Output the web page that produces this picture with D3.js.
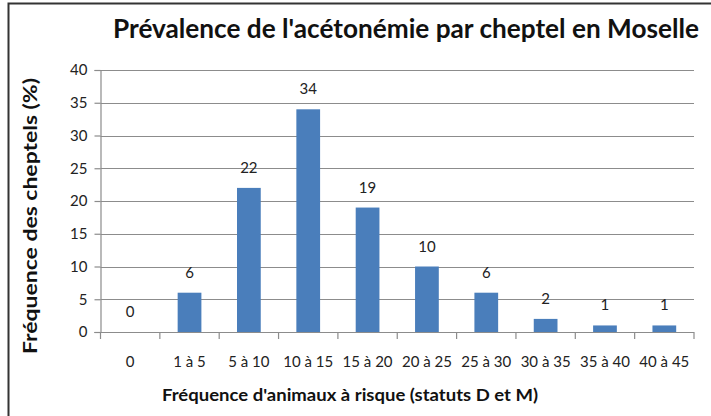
<!DOCTYPE html>
<html><head><meta charset="utf-8">
<script src="https://cdn.jsdelivr.net/npm/d3@7"></script>
<style>body{margin:0;background:#fff}svg{display:block}</style>
</head><body><svg id="c" width="711" height="416"></svg>
<script>
const categories = ["0","1 à 5","5 à 10","10 à 15","15 à 20","20 à 25","25 à 30","30 à 35","35 à 40","40 à 45"];
const values = [0,6,22,34,19,10,6,2,1,1];
const yTicks = [0,5,10,15,20,25,30,35,40];
const title = "Prévalence de l'acétonémie par cheptel en Moselle";
const yTitle = "Fréquence des cheptels (%)";
const xTitle = "Fréquence d'animaux à risque (statuts D et M)";

const svg = d3.select("#c");
const font = "Lato, 'Open Sans', sans-serif";
const L = 100.5, R = 694, T = 70, B = 332;
// frame
svg.append("path").attr("d","M8.5,416 V3.5 H711").attr("fill","none").attr("stroke","#333").attr("stroke-width",2);

const xb = d3.scaleBand().domain(categories).range([L,R]);
const y = d3.scaleLinear().domain([0,40]).range([B,T]);

// gridlines
svg.append("g").selectAll("line").data(yTicks.filter(d=>d>0)).join("line")
  .attr("x1",L).attr("x2",R).attr("y1",d=>Math.round(y(d))+0.5).attr("y2",d=>Math.round(y(d))+0.5)
  .attr("stroke","#8c8c8c").attr("stroke-width",1.2);

// y axis
const ya = svg.append("g").attr("transform",`translate(${L},0)`)
  .call(d3.axisLeft(y).tickValues(yTicks).tickSize(6).tickPadding(7));
ya.select(".domain").attr("stroke","#8c8c8c").attr("stroke-width",1.2);
ya.selectAll(".tick line").attr("stroke","#8c8c8c").attr("stroke-width",1.2);
ya.selectAll("text").attr("font-family",font).attr("font-size",15).attr("fill","#222");

// bars
svg.append("g").selectAll("rect").data(values).join("rect")
  .attr("x",(d,i)=>xb(categories[i]) + xb.bandwidth()*0.3).attr("width",xb.bandwidth()*0.4)
  .attr("y",d=>y(d)).attr("height",d=>B-y(d)).attr("fill","#4a7ebb");

// x axis
svg.append("line").attr("x1",L-6).attr("x2",R).attr("y1",B+0.5).attr("y2",B+0.5).attr("stroke","#8c8c8c").attr("stroke-width",1.2);
svg.append("g").selectAll("line").data(categories.map((c,i)=>i).concat([categories.length])).join("line")
  .attr("x1",i=>L+i*xb.bandwidth()).attr("x2",i=>L+i*xb.bandwidth())
  .attr("y1",B).attr("y2",B+7).attr("stroke","#8c8c8c").attr("stroke-width",1.2);
svg.append("g").selectAll("text").data(categories).join("text")
  .attr("x",d=>xb(d)+xb.bandwidth()/2).attr("y",B+35).attr("text-anchor","middle")
  .attr("font-family",font).attr("font-size",15).attr("fill","#222").text(d=>d);

// data labels
svg.append("g").selectAll("text").data(values).join("text")
  .attr("x",(d,i)=>xb(categories[i])+xb.bandwidth()/2).attr("y",d=>y(d)-15).attr("text-anchor","middle")
  .attr("font-family",font).attr("font-size",15).attr("fill","#222").text(d=>d);

// titles
svg.append("text").attr("x",406).attr("y",38).attr("text-anchor","middle")
  .attr("font-family",font).attr("font-weight","bold").attr("font-size",26).attr("fill","#111")
  .attr("textLength",586).attr("lengthAdjust","spacingAndGlyphs").text(title);
svg.append("text").attr("transform","translate(37,216) rotate(-90)").attr("text-anchor","middle")
  .attr("font-family",font).attr("font-weight","bold").attr("font-size",19).attr("fill","#111")
  .attr("textLength",276).attr("lengthAdjust","spacingAndGlyphs").text(yTitle);
svg.append("text").attr("x",350).attr("y",401).attr("text-anchor","middle")
  .attr("font-family",font).attr("font-weight","bold").attr("font-size",17).attr("fill","#111")
  .attr("textLength",376).attr("lengthAdjust","spacingAndGlyphs").text(xTitle);
</script></body></html>
